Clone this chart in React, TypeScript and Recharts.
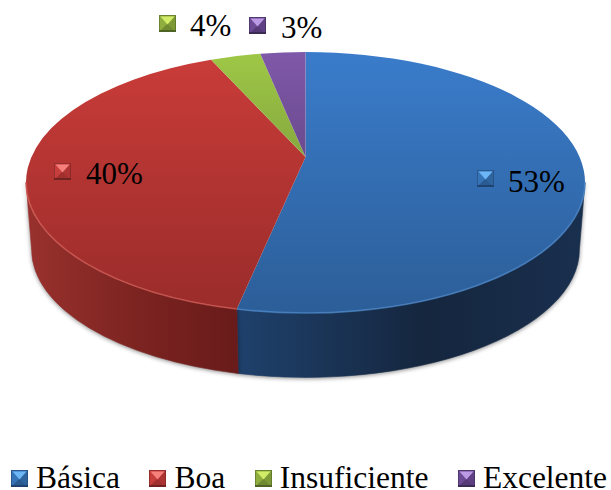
import { Legend, Pie, PieChart } from "recharts"

const categories = ["Básica", "Boa", "Insuficiente", "Excelente"]
const shares = [53.25, 40.1, 3.5, 3.15]
const shareLabels = ["53%", "40%", "4%", "3%"]

const keys = ["blue", "red", "green", "purple"]
const wallStops: Record<string, string[]> = {
  blue: ["#1f416c", "#15263e", "#192f4e"],
  red: ["#98312d", "#7d2421", "#681b1a"],
  green: ["#5f7a33", "#5f7a33", "#5f7a33"],
  purple: ["#4c3366", "#4c3366", "#4c3366"],
}
const topStops: Record<string, string[]> = {
  blue: ["#3a7ccb", "#2c5e98"],
  red: ["#ca3c39", "#992c2a"],
  green: ["#9fc846", "#5f7a33"],
  purple: ["#7f59a9", "#4c3366"],
}
const rimColors: Record<string, string> = { blue: "#4f8ccf", red: "#d9605a" }
const markerColors: Record<string, string[]> = {
  blue: ["#6db6f6", "#3674b8", "#2f659f", "#2a5a92", "#1f4370"],
  red: ["#f5807c", "#c63f3c", "#ad3432", "#a02f2d", "#702220"],
  green: ["#d3ec68", "#8fae3e", "#7d9a36", "#6f8a30", "#4f6424"],
  purple: ["#bb99e4", "#6c4a94", "#5f4084", "#563a78", "#3b2a54"],
}

// label anchors: marker corner + text start/baseline
const labelSpots = [
  { mx: 477, my: 170, tx: 508, ty: 192 },
  { mx: 54, my: 163, tx: 86, ty: 184 },
  { mx: 159, my: 15, tx: 190, ty: 36 },
  { mx: 249, my: 17, tx: 281, ty: 38 },
]

const CX = 305.5
const CY = 182.5
const RADIUS = 279.5
const TILT = 130.5 / 279.5
const PERSP = -0.195
const DEPTH = 67
const BASE_SCALE = 0.98
// clockwise angle from 12 o'clock where the ellipse reaches its left/right extremes
const FRONT_START = 101.2
const FRONT_END = 258.8

const serif = '"Liberation Serif", "Times New Roman", serif'

const chartData = categories.map((name, i) => ({ name, value: shares[i], key: keys[i], fill: topStops[keys[i]][0] }))

function project(t: number, rx: number, ry: number, cx: number, cy: number) {
  const rad = (t * Math.PI) / 180
  const u = Math.sin(rad)
  const v = -Math.cos(rad)
  const d = 1 + PERSP * v
  return {
    x: cx + (rx * Math.sqrt(1 - PERSP * PERSP) * u) / d,
    y: cy + (ry * (v + PERSP)) / d,
  }
}

function arcTo(t0: number, t1: number, rx: number, ry: number, cx: number, cy: number, sweep: 0 | 1) {
  const a = project(t0, rx, ry, cx, cy)
  const b = project(t1, rx, ry, cx, cy)
  const phiA = Math.atan2((a.y - cy) / ry, (a.x - cx) / rx)
  const phiB = Math.atan2((b.y - cy) / ry, (b.x - cx) / rx)
  let delta = sweep ? phiB - phiA : phiA - phiB
  while (delta < 0) delta += Math.PI * 2
  return `A ${rx} ${ry} 0 ${delta > Math.PI ? 1 : 0} ${sweep} ${b.x} ${b.y}`
}

function TopFace(props: any) {
  const { cx, cy, outerRadius, startAngle, endAngle, payload } = props
  const t0 = 90 - startAngle
  const t1 = 90 - endAngle
  const rx = outerRadius
  const ry = outerRadius * TILT
  const apex = { x: cx, y: cy + ry * PERSP }
  const a = project(t0, rx, ry, cx, cy)
  const d = `M ${apex.x} ${apex.y} L ${a.x} ${a.y} ${arcTo(t0, t1, rx, ry, cx, cy, 1)} Z`
  const r0 = Math.max(t0, FRONT_START)
  const r1 = Math.min(t1, FRONT_END)
  const showRim = r1 > r0
  const rimStart = project(r0, rx, ry, cx, cy)
  return (
    <g>
      <path d={d} fill={`url(#top-${payload.key})`} />
      {showRim && (
        <path
          d={`M ${rimStart.x} ${rimStart.y} ${arcTo(r0, r1, rx, ry, cx, cy, 1)}`}
          fill="none"
          stroke={rimColors[payload.key]}
          strokeWidth={1.6}
          opacity={0.7}
          style={{ filter: "blur(0.6px)" }}
        />
      )}
    </g>
  )
}

function SideWall(props: any) {
  const { cx, cy, outerRadius, startAngle, endAngle, payload } = props
  const t0 = Math.max(90 - startAngle, FRONT_START)
  const t1 = Math.min(90 - endAngle, FRONT_END)
  if (t1 <= t0) return <g />
  const rx = outerRadius
  const ry = outerRadius * TILT
  const bx = rx * BASE_SCALE
  const by = ry * BASE_SCALE
  const bcy = cy + DEPTH
  const a = project(t0, rx, ry, cx, cy)
  const b = project(t1, bx, by, cx, bcy)
  const d = `M ${a.x} ${a.y} ${arcTo(t0, t1, rx, ry, cx, cy, 1)} L ${b.x} ${b.y} ${arcTo(t1, t0, bx, by, cx, bcy, 0)} Z`
  return (
    <path
      d={d}
      fill={`url(#wall-${payload.key})`}
      stroke={`url(#wall-${payload.key})`}
      strokeWidth={0.6}
      style={{ filter: "drop-shadow(0px 1px 2px rgba(0,0,0,0.45))" }}
    />
  )
}

function Marker({ colorKey, x = 0, y = 0 }: { colorKey: string; x?: number; y?: number }) {
  const [light, mid, side, low, dark] = markerColors[colorKey]
  const s = 17
  const c = s / 2
  return (
    <g transform={`translate(${x},${y})`}>
      <rect width={s} height={s} fill={mid} />
      <polygon points={`0,0 ${c},${c} 0,${s}`} fill={mid} />
      <polygon points={`${s},0 ${c},${c} ${s},${s}`} fill={side} />
      <polygon points={`0,${s} ${c},${c} ${s},${s}`} fill={low} />
      <polygon points={`1.5,1.5 ${s - 1.5},1.5 ${c},${c + 1}`} fill={light} />
      <rect x={0.5} y={0.5} width={s - 1} height={s - 1} fill="none" stroke={dark} strokeWidth={1} opacity={0.55} />
      <rect y={s - 2} width={s} height={2} fill={dark} />
    </g>
  )
}

function SliceLabel(props: any) {
  const i = props.index
  const spot = labelSpots[i]
  return (
    <g>
      <Marker colorKey={keys[i]} x={spot.mx} y={spot.my} />
      <text x={spot.tx} y={spot.ty} fontFamily={serif} fontSize={31} fill="#000">
        {shareLabels[i]}
      </text>
    </g>
  )
}

function LegendRow() {
  return (
    <div style={{ display: "flex", alignItems: "center", gap: 29.5, height: 22, paddingLeft: 11 }}>
      {categories.map((name, i) => (
        <div key={name} style={{ display: "flex", alignItems: "center", gap: 8 }}>
          <svg width={17} height={17} style={{ display: "block", marginTop: 1 }}>
            <Marker colorKey={keys[i]} />
          </svg>
          <span style={{ fontFamily: serif, fontSize: 31.5, lineHeight: "22px", color: "#000" }}>{name}</span>
        </div>
      ))}
    </div>
  )
}

export default function App() {
  return (
    <div style={{ position: "absolute", left: 0, top: 0, width: 611, height: 490, background: "#fff" }}>
      <PieChart width={611} height={490} margin={{ top: 0, right: 0, bottom: 0, left: 0 }}>
        <defs>
          {keys.map((key) => (
            <linearGradient key={`top-${key}`} id={`top-${key}`} gradientUnits="userSpaceOnUse" x1="0" y1="52" x2="0" y2="313">
              <stop offset="0" stopColor={topStops[key][0]} />
              <stop offset="1" stopColor={topStops[key][1]} />
            </linearGradient>
          ))}
          <linearGradient id="wall-blue" gradientUnits="userSpaceOnUse" x1="237" y1="0" x2="580" y2="0">
            <stop offset="0" stopColor={wallStops.blue[0]} />
            <stop offset="0.55" stopColor={wallStops.blue[1]} />
            <stop offset="1" stopColor={wallStops.blue[2]} />
          </linearGradient>
          <linearGradient id="wall-red" gradientUnits="userSpaceOnUse" x1="30" y1="0" x2="237" y2="0">
            <stop offset="0" stopColor={wallStops.red[0]} />
            <stop offset="0.5" stopColor={wallStops.red[1]} />
            <stop offset="1" stopColor={wallStops.red[2]} />
          </linearGradient>
        </defs>
        <Pie
          data={chartData}
          dataKey="value"
          nameKey="name"
          cx={CX}
          cy={CY}
          outerRadius={RADIUS}
          startAngle={90}
          endAngle={-270}
          stroke="none"
          legendType="none"
          shape={SideWall}
          isAnimationActive={false}
        />
        <Pie
          data={chartData}
          dataKey="value"
          nameKey="name"
          cx={CX}
          cy={CY}
          outerRadius={RADIUS}
          startAngle={90}
          endAngle={-270}
          stroke="none"
          shape={TopFace}
          label={SliceLabel}
          labelLine={false}
          isAnimationActive={false}
        />
        <Legend
          content={<LegendRow />}
          wrapperStyle={{ position: "absolute", left: 0, top: 467, bottom: "auto", width: 611 }}
        />
      </PieChart>
    </div>
  )
}
